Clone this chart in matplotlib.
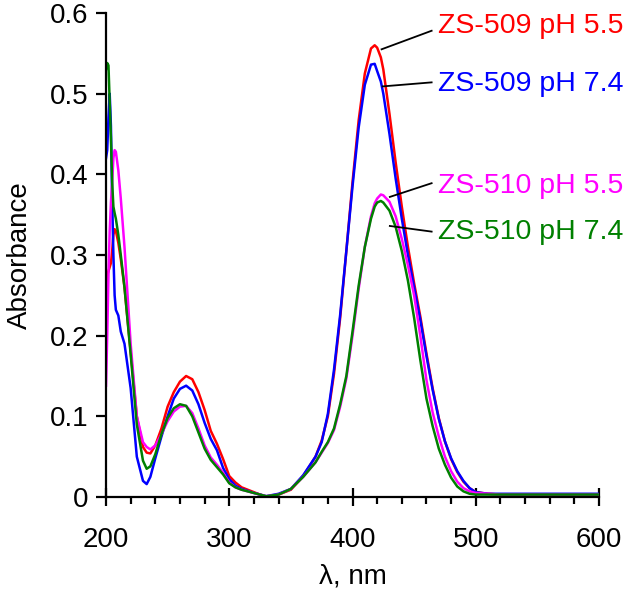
import matplotlib.pyplot as plt
from matplotlib.ticker import MultipleLocator

# wavelength grid (nm), shared by all four spectra
wavelength = [
    200, 201, 202, 203, 204, 205, 206, 207, 208, 210, 212, 215, 220, 225,
    230, 233, 236, 240, 245, 250, 255, 260, 265, 270, 275, 280, 285, 290,
    295, 300, 305, 310, 320, 330, 340, 350, 360, 370, 375, 380, 385, 390,
    395, 400, 405, 410, 415, 418, 420, 423, 425, 430, 435, 440, 445, 450,
    455, 460, 465, 470, 475, 480, 485, 490, 495, 500, 510, 520, 540, 560,
    580, 600,
]

zs509_ph55 = [
    0.262, 0.275, 0.280, 0.285, 0.290, 0.305, 0.325, 0.332, 0.330, 0.315,
    0.295, 0.260, 0.180, 0.100, 0.062, 0.055, 0.054, 0.064, 0.085, 0.112,
    0.130, 0.143, 0.150, 0.146, 0.130, 0.108, 0.082, 0.066, 0.047, 0.026,
    0.018, 0.012, 0.006, 0.000, 0.003, 0.009, 0.026, 0.050, 0.070, 0.100,
    0.153, 0.222, 0.305, 0.390, 0.467, 0.525, 0.556, 0.560, 0.557, 0.545,
    0.530, 0.475, 0.415, 0.360, 0.310, 0.265, 0.224, 0.178, 0.135, 0.098,
    0.069, 0.047, 0.031, 0.019, 0.011, 0.006, 0.004, 0.003, 0.003, 0.003,
    0.003, 0.003,
]

zs509_ph74 = [
    0.420, 0.430, 0.470, 0.500, 0.460, 0.370, 0.300, 0.250, 0.232, 0.225,
    0.205, 0.190, 0.135, 0.050, 0.020, 0.016, 0.025, 0.048, 0.075, 0.100,
    0.122, 0.134, 0.138, 0.132, 0.115, 0.092, 0.072, 0.058, 0.036, 0.022,
    0.014, 0.010, 0.005, 0.001, 0.004, 0.010, 0.027, 0.050, 0.068, 0.103,
    0.158, 0.226, 0.305, 0.385, 0.458, 0.511, 0.536, 0.537, 0.528, 0.515,
    0.500, 0.450, 0.395, 0.345, 0.300, 0.260, 0.220, 0.175, 0.133, 0.097,
    0.069, 0.048, 0.032, 0.020, 0.011, 0.006, 0.004, 0.004, 0.004, 0.004,
    0.004, 0.004,
]

zs510_ph55 = [
    0.138, 0.200, 0.275, 0.330, 0.365, 0.390, 0.420, 0.430, 0.428, 0.405,
    0.370, 0.310, 0.190, 0.100, 0.068, 0.062, 0.059, 0.064, 0.078, 0.094,
    0.106, 0.112, 0.113, 0.104, 0.085, 0.064, 0.049, 0.040, 0.030, 0.018,
    0.012, 0.009, 0.005, 0.001, 0.003, 0.010, 0.025, 0.043, 0.055, 0.067,
    0.083, 0.112, 0.147, 0.200, 0.258, 0.310, 0.348, 0.364, 0.370, 0.375,
    0.374, 0.366, 0.348, 0.320, 0.287, 0.250, 0.200, 0.145, 0.105, 0.075,
    0.050, 0.032, 0.019, 0.011, 0.007, 0.005, 0.004, 0.003, 0.003, 0.003,
    0.003, 0.003,
]

zs510_ph74 = [
    0.530, 0.538, 0.535, 0.490, 0.445, 0.390, 0.360, 0.352, 0.345, 0.325,
    0.300, 0.260, 0.177, 0.090, 0.045, 0.035, 0.038, 0.053, 0.078, 0.098,
    0.110, 0.115, 0.113, 0.100, 0.080, 0.060, 0.046, 0.037, 0.028, 0.017,
    0.012, 0.009, 0.005, 0.001, 0.003, 0.010, 0.025, 0.043, 0.056, 0.068,
    0.085, 0.115, 0.150, 0.205, 0.262, 0.310, 0.345, 0.360, 0.365, 0.367,
    0.365, 0.355, 0.335, 0.305, 0.268, 0.222, 0.170, 0.122, 0.088, 0.060,
    0.040, 0.024, 0.013, 0.007, 0.004, 0.003, 0.003, 0.003, 0.003, 0.003,
    0.003, 0.003,
]

series_labels = ["ZS-509 pH 5.5", "ZS-509 pH 7.4", "ZS-510 pH 5.5", "ZS-510 pH 7.4"]
series_colors = ["#ff0000", "#0000ff", "#ff00ff", "#008000"]
y_ticks = [0, 0.1, 0.2, 0.3, 0.4, 0.5, 0.6]
y_tick_labels = ["0", "0.1", "0.2", "0.3", "0.4", "0.5", "0.6"]

# label text anchor (data coords) and leader line start on the curve
label_pos = [(469, 0.584), (469, 0.512), (469, 0.385), (469, 0.329)]
leader_start = [(423.6, 0.555), (424.4, 0.509), (430.3, 0.372), (430.3, 0.336)]
leader_end = [(464.2, 0.578), (464.2, 0.514), (464.2, 0.389), (464.2, 0.329)]

plt.rcParams["font.family"] = ["Liberation Sans", "DejaVu Sans"]

fig = plt.figure(figsize=(6.3, 5.95), dpi=100)
ax = fig.add_axes([106 / 630, 1 - 497 / 595, (599 - 106) / 630, (497 - 13) / 595])

all_series = [zs509_ph55, zs509_ph74, zs510_ph55, zs510_ph74]
for values, color in zip(all_series, series_colors):
    ax.plot(wavelength, values, color=color, linewidth=1.8, solid_joinstyle="round")

for label, color, pos, p0, p1 in zip(
    series_labels, series_colors, label_pos, leader_start, leader_end
):
    ax.plot([p0[0], p1[0]], [p0[1], p1[1]], color="black", linewidth=1.3)
    ax.text(pos[0], pos[1], label, color=color, fontsize=20.5, ha="left", va="center")

ax.set_xlim(200, 600)
ax.set_ylim(0, 0.6)

ax.spines["top"].set_visible(False)
ax.spines["right"].set_visible(False)
for side in ["left", "bottom"]:
    ax.spines[side].set_linewidth(1.6)

ax.xaxis.set_major_locator(MultipleLocator(100))
ax.xaxis.set_minor_locator(MultipleLocator(20))
ax.set_yticks(y_ticks)
ax.set_yticklabels(y_tick_labels)

ax.tick_params(axis="x", which="major", direction="inout", length=13, width=1.6,
               labelsize=20, pad=15)
ax.tick_params(axis="x", which="minor", direction="out", length=5, width=1.6)
ax.tick_params(axis="y", which="major", direction="out", length=7.5, width=1.6,
               labelsize=20, pad=5)

ax.set_xlabel("λ, nm", fontsize=20, labelpad=8)
ax.set_ylabel("Absorbance", fontsize=20, labelpad=12)

fig.savefig("out.png", dpi=100)
